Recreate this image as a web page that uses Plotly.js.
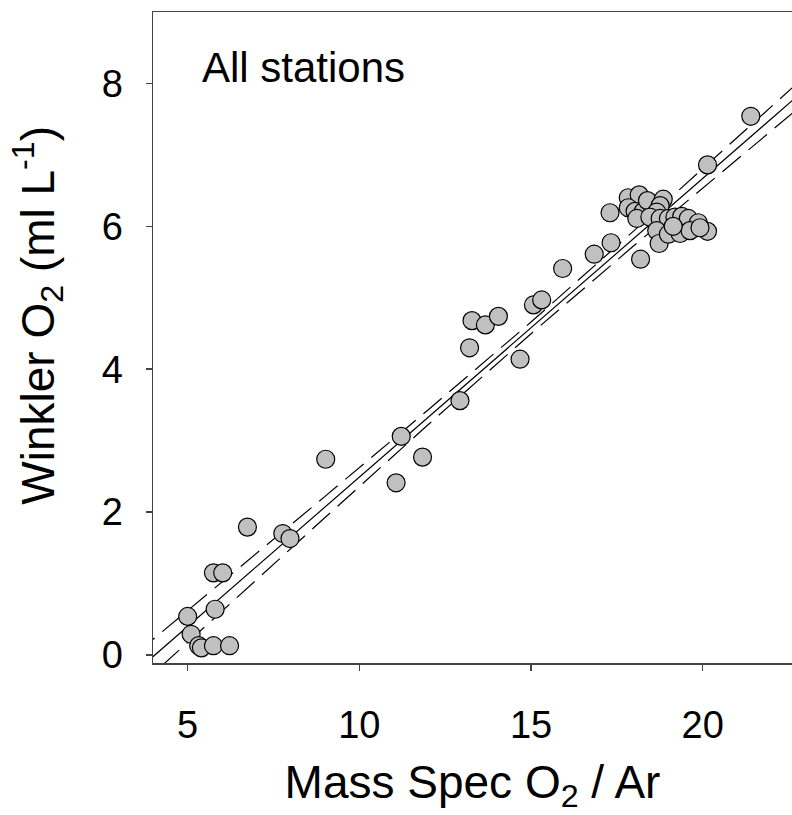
<!DOCTYPE html>
<html>
<head>
<meta charset="utf-8">
<script src="https://cdn.plot.ly/plotly-3.0.1.min.js"></script>
<style>
  html, body { margin: 0; padding: 0; background: #fff; overflow: hidden; }
  #chart { width: 792px; height: 815px; }
</style>
</head>
<body>
<div id="chart"></div>
<script>
// Observed data: Mass Spec O2/Ar (x) vs Winkler O2 (y, ml L-1)
const massSpecO2Ar = [
  5.00, 5.10, 5.32, 5.40, 5.75, 6.22, 5.80, 5.75, 6.02,
  6.74, 7.77, 7.98, 9.02, 11.07, 11.22, 11.84, 12.93,
  13.21, 13.28, 13.67, 14.05, 14.68, 15.07, 15.31, 15.92,
  16.84, 17.30, 17.33, 18.19,
  17.83, 18.15, 17.83, 18.03, 18.27, 18.39, 18.08, 18.85, 18.76,
  18.66, 18.46, 18.76, 19.00, 19.19, 19.39, 19.58, 19.87, 20.14,
  18.66, 18.73, 19.00, 19.34, 19.63, 19.92, 19.14,
  20.14, 21.40
];
const winklerO2 = [
  0.54, 0.29, 0.13, 0.10, 0.13, 0.13, 0.64, 1.15, 1.15,
  1.79, 1.70, 1.63, 2.74, 2.41, 3.06, 2.77, 3.56,
  4.30, 4.68, 4.62, 4.74, 4.14, 4.90, 4.97, 5.41,
  5.61, 6.19, 5.77, 5.54,
  6.40, 6.44, 6.26, 6.21, 6.21, 6.36, 6.11, 6.38, 6.29,
  6.20, 6.13, 6.11, 6.11, 6.13, 6.14, 6.11, 6.05, 5.93,
  5.94, 5.76, 5.89, 5.90, 5.94, 5.98, 6.00,
  6.86, 7.54
];

// Regression line and 95% confidence band
const fitX   = [3.5, 6, 9, 12, 15, 18, 21, 23];
const fitY   = [-0.227, 0.818, 2.072, 3.326, 4.580, 5.834, 7.088, 7.924];
const upperY = [0.023, 1.020, 2.220, 3.430, 4.660, 5.940, 7.240, 8.110];
const lowerY = [-0.477, 0.616, 1.924, 3.223, 4.497, 5.731, 6.940, 7.740];

const xTicks = [5, 10, 15, 20];
const yTicks = [0, 2, 4, 6, 8];

const FONT = 'Liberation Sans, Arial, sans-serif';

const traces = [
  { x: fitX, y: upperY, mode: 'lines', line: { color: '#000', width: 1.2, dash: '24px,10px' }, hoverinfo: 'skip', showlegend: false },
  { x: fitX, y: lowerY, mode: 'lines', line: { color: '#000', width: 1.2, dash: '24px,10px' }, hoverinfo: 'skip', showlegend: false },
  { x: fitX, y: fitY, mode: 'lines', line: { color: '#000', width: 1.2 }, hoverinfo: 'skip', showlegend: false },
  { x: massSpecO2Ar, y: winklerO2, mode: 'markers', showlegend: false,
    marker: { size: 18, color: '#c0c0c0', line: { color: '#000', width: 1.2 } } }
];

const layout = {
  width: 792, height: 815,
  margin: { l: 153, r: 0, t: 12, b: 152 },
  paper_bgcolor: '#fff', plot_bgcolor: '#fff',
  font: { family: FONT, color: '#000' },
  showlegend: false,
  xaxis: {
    range: [3.99, 22.6],
    tickvals: xTicks, ticktext: xTicks.map(String),
    ticks: 'outside', ticklen: 6, tickwidth: 1.5, tickcolor: '#444',
    showline: true, linecolor: '#444', linewidth: 1.5, mirror: true,
    showgrid: false, zeroline: false,
    tickfont: { family: FONT, size: 38, color: '#000' },
    ticklabelstandoff: 22,
    title: { text: 'Mass Spec O<sub>2</sub> / Ar', font: { family: FONT, size: 46, color: '#000' }, standoff: 20 }
  },
  yaxis: {
    range: [-0.112, 9.0],
    tickvals: yTicks, ticktext: yTicks.map(String),
    ticks: 'outside', ticklen: 6, tickwidth: 1.5, tickcolor: '#444',
    showline: true, linecolor: '#444', linewidth: 1.5, mirror: false,
    showgrid: false, zeroline: false,
    tickfont: { family: FONT, size: 38, color: '#000' },
    ticklabelstandoff: 15
  },
  annotations: [
    { text: 'All stations', xref: 'paper', yref: 'paper', x: 0.074, y: 0.914,
      xanchor: 'left', yanchor: 'middle', showarrow: false,
      font: { family: FONT, size: 42, color: '#000' } },
    { text: 'Winkler O<sub>2</sub> (ml L<sup>-1</sup>)', xref: 'paper', yref: 'paper',
      x: -0.18, y: 0.535, xanchor: 'center', yanchor: 'middle', textangle: -90,
      showarrow: false, font: { family: FONT, size: 46, color: '#000' } }
  ]
};

Plotly.newPlot('chart', traces, layout, { displayModeBar: false, staticPlot: true });
</script>
</body>
</html>
